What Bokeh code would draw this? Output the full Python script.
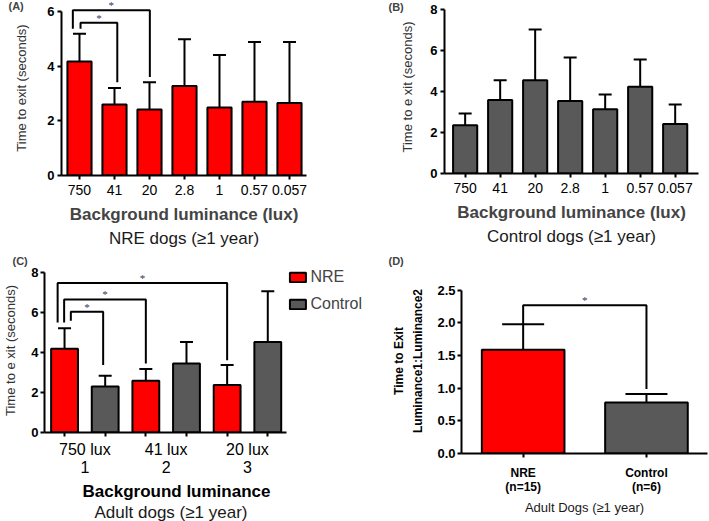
from bokeh.plotting import figure
from bokeh.layouts import row, column
from bokeh.models import (Range1d, FixedTicker, Whisker, TeeHead, LabelSet, Title,
                          ColumnDataSource, Legend, LegendItem)
from bokeh.embed import file_html
from bokeh.resources import INLINE

FONT = "Liberation Sans"
RED = "#fe0000"
GRAY = "#595959"
STAR = "#2a3560"

# ---------------- data ----------------
# Panel A: NRE dogs
lux_labels = ["750", "41", "20", "2.8", "1", "0.57", "0.057"]
nre_mean = [4.17, 2.60, 2.41, 3.27, 2.49, 2.70, 2.65]
nre_err_top = [5.18, 3.20, 3.41, 4.98, 4.41, 4.88, 4.88]
# Panel B: Control dogs
ctrl_mean = [2.36, 3.58, 4.55, 3.54, 3.14, 4.23, 2.41]
ctrl_err_top = [2.93, 4.55, 7.02, 5.66, 3.85, 5.56, 3.37]
# Panel C: grouped
c_groups = ["750 lux\n1", "41 lux\n2", "20 lux\n3"]
c_series = ["NRE", "Control"]
c_nre = [4.19, 2.59, 2.38]
c_nre_err_top = [5.21, 3.17, 3.37]
c_ctrl = [2.30, 3.45, 4.52]
c_ctrl_err_top = [2.84, 4.52, 7.06]
# Panel D: ratio
d_labels = ["NRE\n(n=15)", "Control\n(n=6)"]
d_ratio = [1.59, 0.78]
d_err_top = [1.98, 0.91]

# significance brackets: left x, right x, top, left bottom, right bottom
a_br_left = [-0.19, 0.03]
a_br_right = [2.01, 1.08]
a_br_top = [6.04, 5.59]
a_br_lb = [5.37, 5.37]
a_br_rb = [3.60, 3.41]

c_br_left = [-0.17, -0.01, 0.155]
c_br_right = [4.0, 2.0, 0.95]
c_br_top = [7.47, 6.65, 6.04]
c_br_lb = [5.50, 5.50, 5.58]
c_br_rb = [3.61, 3.45, 3.37]

d_br_left = [0.0]
d_br_right = [1.0]
d_br_top = [2.27]
d_br_lb = [1.98]
d_br_rb = [0.99]


def make_fig(w, h, xr, yr, bl, br, bt, bb):
    p = figure(width=w, height=h, x_range=Range1d(*xr), y_range=Range1d(*yr),
               output_backend="svg", toolbar_location=None,
               min_border_left=bl, min_border_right=br,
               min_border_top=bt, min_border_bottom=bb)
    p.frame_align = False
    p.xgrid.grid_line_color = None
    p.ygrid.grid_line_color = None
    p.outline_line_color = None
    p.background_fill_color = "white"
    p.border_fill_color = "white"
    for ax in (p.xaxis[0], p.yaxis[0]):
        ax.axis_line_width = 2
        ax.axis_line_color = "black"
        ax.major_tick_line_width = 2
        ax.major_tick_line_color = "black"
        ax.major_tick_in = 0
        ax.major_tick_out = 4
        ax.minor_tick_line_color = None
        ax.major_label_text_font = FONT
        ax.axis_label_text_font = FONT
        ax.major_label_text_color = "black"
    return p


def bars_with_err(p, xs, tops, errs, color, width, cap):
    src = ColumnDataSource(dict(x=xs, top=tops, err=errs))
    r = p.vbar(x="x", top="top", width=width, bottom=0, source=src,
               fill_color=color, line_color="black", line_width=2)
    w = Whisker(base="x", lower="top", upper="err", source=src,
                line_color="black", line_width=2, lower_head=None,
                upper_head=TeeHead(size=cap, line_color="black", line_width=2))
    p.add_layout(w)
    return r


def brackets(p, left, right, top, lb, rb, size="11px"):
    xs = [[l, l, r, r] for l, r in zip(left, right)]
    ys = [[a, t, t, b] for a, t, b in zip(lb, top, rb)]
    p.multi_line(xs=xs, ys=ys, line_color="black", line_width=2)
    src = ColumnDataSource(dict(x=[(l + r) / 2 for l, r in zip(left, right)],
                                y=top, t=["*"] * len(top)))
    p.add_layout(LabelSet(x="x", y="y", text="t", source=src, text_font=FONT,
                          text_font_size=size, text_color=STAR, y_offset=1,
                          text_align="center", text_baseline="alphabetic"))


def style_y_label(ax, text, size, bold=False, color="#333333", standoff=10):
    ax.axis_label = text
    ax.axis_label_text_font_size = size
    ax.axis_label_text_font_style = "bold" if bold else "normal"
    ax.axis_label_text_color = color
    ax.axis_label_standoff = standoff


def below_title(p, text, size, standoff, bold=False, align="center", offset=0,
                color="#1a1a1a", line_height=1.0):
    p.add_layout(Title(text=text, align=align, offset=offset, text_font=FONT,
                       text_font_size=size, text_line_height=line_height,
                       text_font_style="bold" if bold else "normal",
                       text_color=color, standoff=standoff), "below")


def letter_title(p, text, offset, standoff):
    p.add_layout(Title(text=text, align="left", offset=offset, text_font=FONT,
                       text_font_size="11px", text_font_style="bold",
                       standoff=standoff), "above")


# ---------------- Panel A ----------------
pA = make_fig(355, 250, (-0.514, 6.486), (0, 6.40), 61, 49, 0, 75)
idx7 = list(range(len(lux_labels)))
bars_with_err(pA, idx7, nre_mean, nre_err_top, RED, 0.69, 13)
brackets(pA, a_br_left, a_br_right, a_br_top, a_br_lb, a_br_rb)
pA.xaxis.ticker = FixedTicker(ticks=idx7)
pA.xaxis.major_label_overrides = {i: l for i, l in zip(idx7, lux_labels)}
pA.xaxis.major_label_text_font_size = "14px"
pA.xaxis.major_label_standoff = 5
pA.xaxis.axis_label = "Background luminance (lux)"
pA.xaxis.axis_label_text_font_size = "17px"
pA.xaxis.axis_label_text_font_style = "bold"
pA.xaxis.axis_label_text_line_height = 0.8
pA.xaxis.axis_label_standoff = 7
pA.yaxis.ticker = FixedTicker(ticks=[0, 2, 4, 6])
pA.yaxis.bounds = (0, 6)
pA.yaxis.major_label_text_font_size = "13px"
pA.yaxis.major_label_text_font_style = "bold"
pA.yaxis.major_label_standoff = 3
style_y_label(pA.yaxis[0], "Time to exit (seconds)", "13px", standoff=15)
letter_title(pA, "(A)", -53, -23)
below_title(pA, "NRE dogs (\u22651 year)", "17px", 0)

# ---------------- Panel B ----------------
pB = make_fig(354, 250, (-0.59, 6.666), (0, 8.44), 89, 11, 0, 77)
bars_with_err(pB, idx7, ctrl_mean, ctrl_err_top, GRAY, 0.69, 13)
pB.xaxis.ticker = FixedTicker(ticks=idx7)
pB.xaxis.major_label_overrides = {i: l for i, l in zip(idx7, lux_labels)}
pB.xaxis.major_label_text_font_size = "14px"
pB.xaxis.major_label_standoff = 5
pB.xaxis.axis_label = "Background luminance (lux)"
pB.xaxis.axis_label_text_font_size = "17px"
pB.xaxis.axis_label_text_font_style = "bold"
pB.xaxis.axis_label_text_line_height = 0.8
pB.xaxis.axis_label_standoff = 7
pB.yaxis.ticker = FixedTicker(ticks=[0, 2, 4, 6, 8])
pB.yaxis.bounds = (0, 8)
pB.yaxis.major_label_text_font_size = "13px"
pB.yaxis.major_label_text_font_style = "bold"
pB.yaxis.major_label_standoff = 3
style_y_label(pB.yaxis[0], "Time to e xit (seconds)", "13px", standoff=12)
letter_title(pB, "(B)", -56, -24)
below_title(pB, "Control dogs (\u22651 year)", "17px", 0)

# ---------------- Panel C ----------------
pC = make_fig(388, 271, (-0.493, 7.33), (0, 8.197), 40, 26, 17, 88)
nre_x = [2 * i for i in range(len(c_groups))]
ctrl_x = [2 * i + 1 for i in range(len(c_groups))]
rN = bars_with_err(pC, nre_x, c_nre, c_nre_err_top, RED, 0.66, 13)
rC = bars_with_err(pC, ctrl_x, c_ctrl, c_ctrl_err_top, GRAY, 0.66, 13)
brackets(pC, c_br_left, c_br_right, c_br_top, c_br_lb, c_br_rb)
centers = [2 * i + 0.5 for i in range(len(c_groups))]
pC.xaxis.ticker = FixedTicker(ticks=centers, minor_ticks=sorted(nre_x + ctrl_x))
pC.xaxis.bounds = (-0.493, 5.46)
pC.xaxis.major_label_overrides = {c: g for c, g in zip(centers, c_groups)}
pC.xaxis.major_tick_line_color = None
pC.xaxis.minor_tick_line_color = "black"
pC.xaxis.minor_tick_line_width = 2
pC.xaxis.minor_tick_in = 0
pC.xaxis.minor_tick_out = 4
pC.xaxis.major_label_text_font_size = "16px"
pC.xaxis.major_label_text_line_height = 1.1
pC.xaxis.major_label_standoff = 4
pC.yaxis.ticker = FixedTicker(ticks=[0, 2, 4, 6, 8])
pC.yaxis.bounds = (0, 8)
pC.yaxis.major_label_text_font_size = "13px"
pC.yaxis.major_label_text_font_style = "bold"
pC.yaxis.major_label_standoff = 2
style_y_label(pC.yaxis[0], "Time to e xit (seconds)", "13px", standoff=10)
below_title(pC, "Background luminance", "17px", 0, bold=True, align="left",
            offset=38, color="black", line_height=0.8)
below_title(pC, "Adult dogs (\u22651 year)", "17px", 0, align="left", offset=50)
letter_title(pC, "(C)", -32, 4)
legend = Legend(items=[LegendItem(label=c_series[0], renderers=[rN]),
                       LegendItem(label=c_series[1], renderers=[rC])],
                location="top_right", glyph_width=20, glyph_height=12,
                label_text_font=FONT, label_text_font_size="16px",
                label_standoff=3, spacing=9, padding=0, margin=0,
                label_height=14, border_line_color=None,
                background_fill_alpha=0)
pC.add_layout(legend)

# ---------------- Panel D ----------------
pD = make_fig(321, 271, (-0.5, 1.495), (0, 2.835), 73, 2, 17, 68)
idx2 = list(range(len(d_labels)))
pD.vbar(x=[idx2[0]], top=[d_ratio[0]], width=0.67, fill_color=RED,
        line_color="black", line_width=2)
pD.vbar(x=[idx2[1]], top=[d_ratio[1]], width=0.67, fill_color=GRAY,
        line_color="black", line_width=2)
srcD = ColumnDataSource(dict(x=idx2, top=d_ratio, err=d_err_top))
pD.add_layout(Whisker(base="x", lower="top", upper="err", source=srcD,
                      line_color="black", line_width=2, lower_head=None,
                      upper_head=TeeHead(size=42, line_color="black", line_width=2)))
brackets(pD, d_br_left, d_br_right, d_br_top, d_br_lb, d_br_rb)
pD.xaxis.ticker = FixedTicker(ticks=idx2)
pD.xaxis.major_label_overrides = {i: l for i, l in zip(idx2, d_labels)}
pD.xaxis.major_label_text_font_size = "12px"
pD.xaxis.major_label_text_font_style = "bold"
pD.xaxis.major_label_text_line_height = 1.05
pD.xaxis.major_label_standoff = 8
pD.yaxis.ticker = FixedTicker(ticks=[0, 0.5, 1.0, 1.5, 2.0, 2.5])
pD.yaxis.bounds = (0, 2.5)
pD.yaxis.major_label_overrides = {0: "0.0", 0.5: "0.5", 1: "1.0", 1.5: "1.5",
                                  2: "2.0", 2.5: "2.5"}
pD.yaxis.major_label_text_font_size = "13px"
pD.yaxis.major_label_text_font_style = "bold"
pD.yaxis.major_label_standoff = 2
style_y_label(pD.yaxis[0], "Time to Exit\nLuminance1:Luminance2", "12px",
              bold=True, color="black", standoff=9)
pD.yaxis.axis_label_text_line_height = 1.4
below_title(pD, "Adult Dogs (\u22651 year)", "13px", 0)
letter_title(pD, "(D)", -73, 4)

layout = column(row(pA, pB), row(pC, pD))
open("out.html", "w").write(file_html(layout, INLINE))
